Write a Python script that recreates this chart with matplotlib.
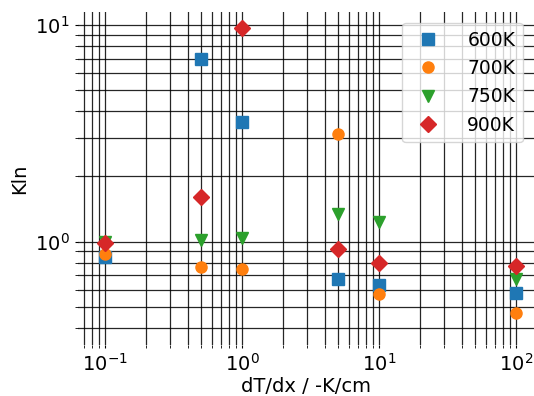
import numpy as np
import matplotlib.pyplot as plt

# temperature gradient dT/dx in -K/cm
grad = [0.1, 0.5, 1.0, 5.0, 10.0, 100.0]

# Kln for each furnace temperature
kln_600 = [0.85, 7.0, 3.55, 0.67, 0.63, 0.58]
kln_700 = [0.88, 0.76, 0.75, 3.15, 0.57, 0.47]
kln_750 = [1.0, 1.02, 1.04, 1.34, 1.23, 0.67]
kln_900 = [0.98, 1.61, 9.65, 0.92, 0.80, 0.77]

series = [
    (kln_600, "s", "#1f77b4", "600K"),
    (kln_700, "o", "#ff7f0e", "700K"),
    (kln_750, "v", "#2ca02c", "750K"),
    (kln_900, "D", "#d62728", "900K"),
]

plt.rcParams["font.size"] = 14

fig = plt.figure(figsize=(5.34, 3.96), dpi=100)
ax = fig.add_axes([0.146, 0.129, 0.854, 0.841])

for vals, mk, col, lab in series:
    ax.plot(grad, vals, mk, color=col, markersize=8, label=lab)

ax.set_xscale("log")
ax.set_yscale("log")
ax.set_xlim(0.0635, 135)
ax.set_ylim(0.333, 11.5)

ax.grid(True, which="both", color="k", linewidth=0.9, alpha=0.85)
for s in ax.spines.values():
    s.set_visible(False)
ax.tick_params(which="both", length=2.5, color="k")

ax.set_xlabel("dT/dx / -K/cm", labelpad=1)
ax.set_ylabel("Kln")
ax.legend(loc="upper right", borderaxespad=0.6, handletextpad=1.1,
          fontsize=13.5)

fig.savefig("out.png", dpi=100)
